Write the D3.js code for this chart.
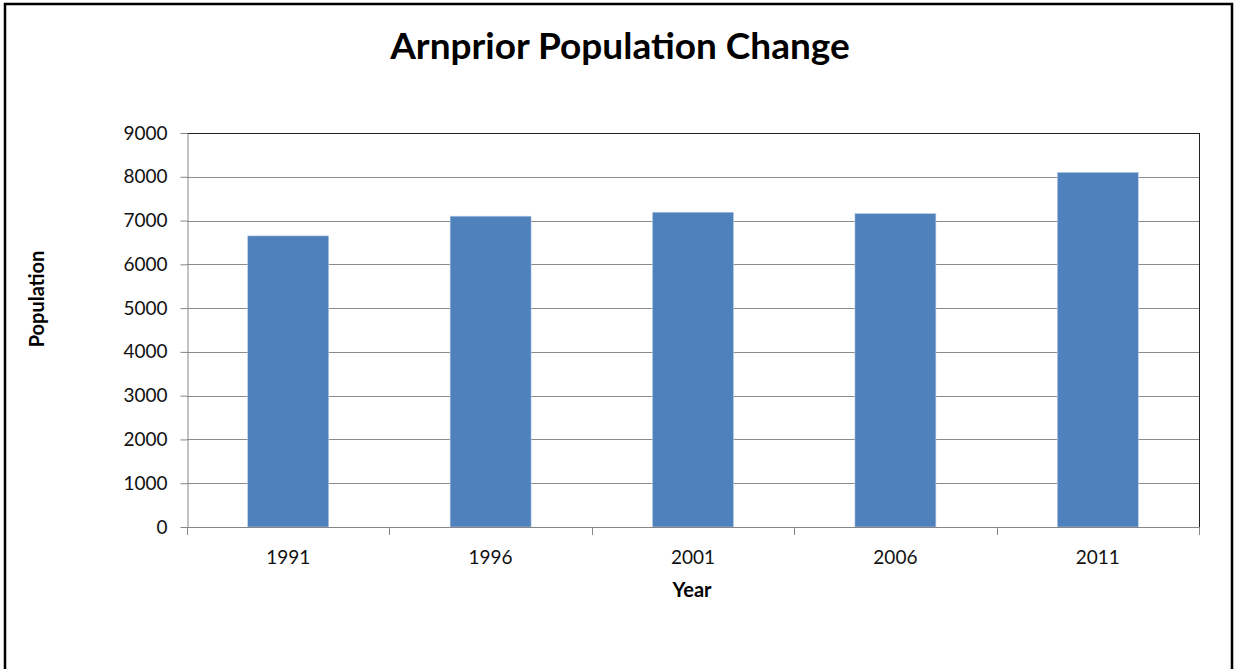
<!DOCTYPE html>
<html>
<head>
<meta charset="utf-8">
<script src="https://cdn.jsdelivr.net/npm/d3@7"></script>
<style>
  body { margin: 0; background: #fff; }
  svg { display: block; }
</style>
</head>
<body>
<svg id="root" width="1235" height="669"></svg>
<script>
//Chart data
const years = ["1991", "1996", "2001", "2006", "2011"];
const population = [6650, 7100, 7190, 7160, 8100];
const yTicks = [0, 1000, 2000, 3000, 4000, 5000, 6000, 7000, 8000, 9000];

const svg = d3.select("#root");
const font = "Lato, 'Open Sans', sans-serif";

//Plot area
const plotLeft = 187, plotRight = 1199, plotTop = 133, plotBottom = 527;

const x = d3.scaleBand()
    .domain(years)
    .range([plotLeft, plotRight])
    .paddingInner(0.6)
    .paddingOuter(0.3);

const y = d3.scaleLinear()
    .domain([0, 9000])
    .range([plotBottom, plotTop]);

//Outer frame
svg.append("path")
    .attr("d", `M5,669 V4 H1232 V669`)
    .attr("fill", "none")
    .attr("stroke", "#000")
    .attr("stroke-width", 2.5);

//Gridlines
svg.append("g")
    .selectAll("line")
    .data(yTicks.filter(d => d > 0))
    .enter()
    .append("line")
    .attr("x1", plotLeft)
    .attr("x2", plotRight)
    .attr("y1", d => Math.round(y(d)) + 0.5)
    .attr("y2", d => Math.round(y(d)) + 0.5)
    .attr("stroke", d => d === 9000 ? "#222" : "#8c8c8c")
    .attr("stroke-width", 1);

//Right border of plot
svg.append("line")
    .attr("x1", plotRight + 0.5).attr("x2", plotRight + 0.5)
    .attr("y1", plotTop).attr("y2", plotBottom)
    .attr("stroke", "#222");

//Bars
svg.append("g")
    .selectAll("rect")
    .data(population)
    .enter()
    .append("rect")
    .attr("x", (d, i) => x(years[i]))
    .attr("y", d => y(d))
    .attr("width", x.bandwidth())
    .attr("height", d => plotBottom - y(d))
    .attr("fill", "#4f81bd")
    .attr("stroke", "#b9cde5")
    .attr("stroke-width", 0.6);

//Y axis
const yAxis = svg.append("g")
    .attr("transform", `translate(${plotLeft + 0.5},0)`)
    .call(d3.axisLeft(y).tickValues(yTicks).tickFormat(d3.format("d"))
        .tickSize(7).tickPadding(13).tickSizeOuter(0));
yAxis.select(".domain").attr("stroke", "#868686");
yAxis.selectAll(".tick line").attr("stroke", "#868686");
yAxis.selectAll("text")
    .attr("font-family", font)
    .attr("font-size", 19)
    .attr("fill", "#111");

//X axis (ticks between categories)
const xBounds = years.map(d => x(d) - x.step() * x.paddingOuter()).concat([plotRight]);
svg.append("line")
    .attr("x1", plotLeft).attr("x2", plotRight)
    .attr("y1", plotBottom + 0.5).attr("y2", plotBottom + 0.5)
    .attr("stroke", "#868686");
svg.append("g")
    .selectAll("line")
    .data(xBounds)
    .enter()
    .append("line")
    .attr("x1", d => Math.round(d) + 0.5)
    .attr("x2", d => Math.round(d) + 0.5)
    .attr("y1", plotBottom)
    .attr("y2", plotBottom + 8)
    .attr("stroke", "#868686");
svg.append("g")
    .selectAll("text")
    .data(years)
    .enter()
    .append("text")
    .attr("x", d => x(d) + x.bandwidth() / 2)
    .attr("y", 564)
    .attr("text-anchor", "middle")
    .attr("font-family", font)
    .attr("font-size", 19)
    .attr("fill", "#111")
    .text(d => d);

//Titles
svg.append("text")
    .attr("x", 620)
    .attr("y", 59)
    .attr("text-anchor", "middle")
    .attr("font-family", font)
    .attr("font-weight", "bold")
    .attr("font-size", 37)
    .attr("fill", "#000")
    .text("Arnprior Population Change");

svg.append("text")
    .attr("x", 692)
    .attr("y", 597)
    .attr("text-anchor", "middle")
    .attr("font-family", font)
    .attr("font-weight", "bold")
    .attr("font-size", 20)
    .attr("fill", "#000")
    .text("Year");

svg.append("text")
    .attr("transform", "translate(44,299) rotate(-90)")
    .attr("text-anchor", "middle")
    .attr("font-family", font)
    .attr("font-weight", "bold")
    .attr("font-size", 20)
    .attr("fill", "#000")
    .text("Population");
</script>
</body>
</html>
